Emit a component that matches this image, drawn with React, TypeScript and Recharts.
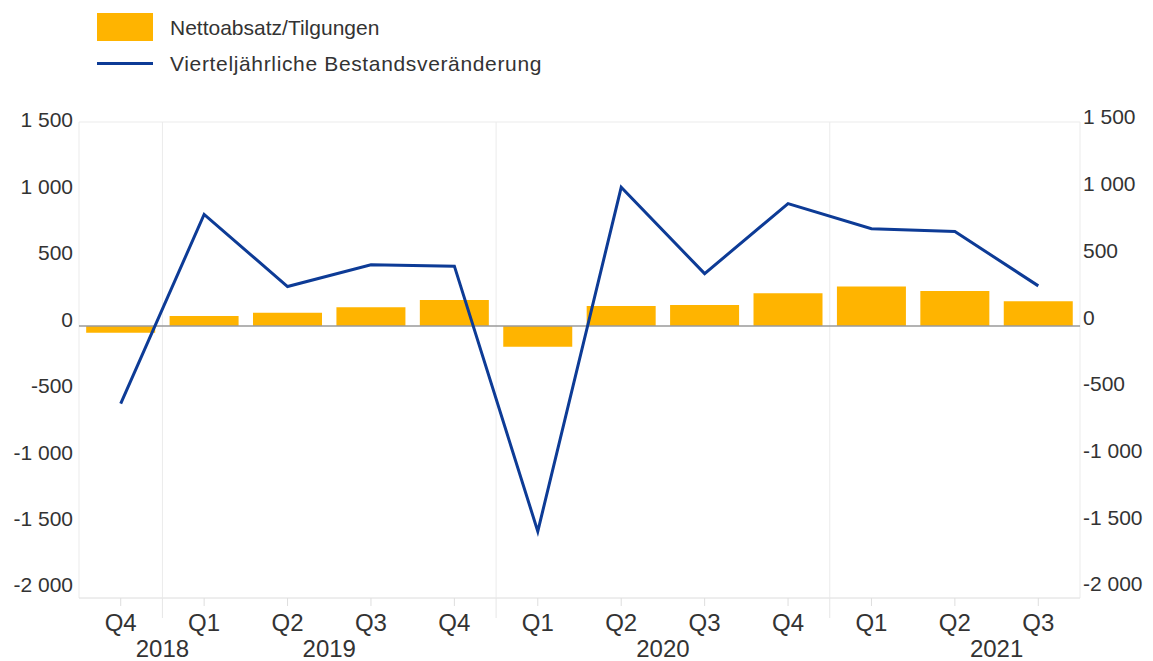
import React from "react";
import {
  ComposedChart,
  Bar,
  Line,
  XAxis,
  YAxis,
  CartesianGrid,
  ReferenceLine,
} from "recharts";

const quarters = ["Q4", "Q1", "Q2", "Q3", "Q4", "Q1", "Q2", "Q3", "Q4", "Q1", "Q2", "Q3"];
const years = ["2018", "", "2019", "", "", "", "2020", "", "", "", "2021", ""];
const netIssuance = [-49, 74, 98, 137, 191, -152, 147, 155, 240, 290, 257, 182];
const stockChange = [-570, 820, 290, 450, 440, -1510, 1020, 385, 900, 715, 695, 295];
const yTicks = [-2000, -1500, -1000, -500, 0, 500, 1000, 1500];

const data = quarters.map((q, i) => ({
  key: String(i),
  net: netIssuance[i],
  stock: stockChange[i],
}));

const W = 1153;
const H = 661;
const PLOT_LEFT = 79;
const PLOT_RIGHT = 1080;
const PLOT_TOP = 122;
const PLOT_BOTTOM = 598;
const BAND = (PLOT_RIGHT - PLOT_LEFT) / quarters.length;

// year separators sit on the left edge of every Q1 band
const separatorX = quarters
  .map((q, i) => (q === "Q1" ? PLOT_LEFT + BAND * i : null))
  .filter((v): v is number => v !== null);

const FONT = '"Liberation Sans", Arial, sans-serif';
const TEXT = "#333";
const GRID = "#ebebeb";
const ORANGE = "#ffb400";
const BLUE = "#0d3b96";

const fmt = (v: number) => {
  const s = String(Math.abs(v));
  const body = s.length > 3 ? s.slice(0, s.length - 3) + " " + s.slice(-3) : s;
  return (v < 0 ? "-" : "") + body;
};

function LeftTick({ x, y, payload }: any) {
  const v = payload.value as number;
  const shift = -2 - ((1500 - v) / 3500) * 11;
  return (
    <text x={x} y={y + shift} dy="0.355em" textAnchor="end" fontSize={21} fill={TEXT} fontFamily={FONT}>
      {fmt(v)}
    </text>
  );
}

function RightTick({ x, y, payload }: any) {
  const v = payload.value as number;
  const shift = -5 - ((1500 - v) / 3500) * 9;
  return (
    <text x={x} y={y + shift} dy="0.355em" textAnchor="start" fontSize={21} fill={TEXT} fontFamily={FONT}>
      {fmt(v)}
    </text>
  );
}

function QuarterTick({ x, y, payload }: any) {
  const i = Number(payload.value);
  const q = quarters[i];
  const yr = years[i];
  return (
    <g>
      <line x1={x} x2={x} y1={y} y2={y + 8} stroke="#dedede" />
      {q === "Q1" && (
        <line x1={x - BAND / 2} x2={x - BAND / 2} y1={y} y2={y + 20} stroke="#e6e6e6" />
      )}
      <text x={x} y={y + 24} dy="0.355em" textAnchor="middle" fontSize={24} fill={TEXT} fontFamily={FONT}>
        {q}
      </text>
      {yr && (
        <text x={x + BAND / 2} y={y + 50} dy="0.355em" textAnchor="middle" fontSize={24} fill={TEXT} fontFamily={FONT}>
          {yr}
        </text>
      )}
    </g>
  );
}

export default function App() {
  return (
    <div style={{ position: "absolute", left: 0, top: 0, width: W, height: H, background: "#fff", fontFamily: FONT }}>
      <div style={{ position: "absolute", left: 97, top: 13, width: 56, height: 28, background: ORANGE }} />
      <div style={{ position: "absolute", left: 170, top: 27, transform: "translateY(-50%)", fontSize: 21, color: TEXT, lineHeight: 1 }}>
        Nettoabsatz/Tilgungen
      </div>
      <div style={{ position: "absolute", left: 97, top: 62, width: 56, height: 3, background: BLUE }} />
      <div style={{ position: "absolute", left: 170, top: 63, transform: "translateY(-50%)", fontSize: 21, letterSpacing: 0.65, color: TEXT, lineHeight: 1 }}>
        Vierteljährliche Bestandsveränderung
      </div>

      <ComposedChart
        width={W}
        height={H}
        data={data}
        margin={{ top: PLOT_TOP, right: 0, bottom: 0, left: 0 }}
        barCategoryGap="8.6%"
      >
        <CartesianGrid
          stroke={GRID}
          verticalPoints={[PLOT_LEFT, ...separatorX, PLOT_RIGHT]}
          vertical={true}
        />
        <XAxis
          dataKey="key"
          height={H - PLOT_BOTTOM}
          tickSize={0}
          tickMargin={0}
          tickLine={false}
          axisLine={{ stroke: "#e6e6e6" }}
          interval={0}
          tick={<QuarterTick />}
        />
        <YAxis
          yAxisId="left"
          orientation="left"
          width={PLOT_LEFT}
          domain={[-2000, 1500]}
          ticks={yTicks}
          tickLine={false}
          axisLine={false}
          tickSize={4}
          tickMargin={2}
          tick={<LeftTick />}
        />
        <YAxis
          yAxisId="right"
          orientation="right"
          width={W - PLOT_RIGHT}
          domain={[-2000, 1500]}
          ticks={yTicks}
          tickLine={false}
          axisLine={false}
          tickSize={1}
          tickMargin={2}
          tick={<RightTick />}
        />
        <Bar yAxisId="left" dataKey="net" fill={ORANGE} isAnimationActive={false} />
        <ReferenceLine yAxisId="left" y={0} stroke="#9a9a9a" strokeWidth={1.5} />
        <Line
          yAxisId="right"
          type="linear"
          dataKey="stock"
          stroke={BLUE}
          strokeWidth={3}
          dot={false}
          activeDot={false}
          isAnimationActive={false}
        />
      </ComposedChart>
    </div>
  );
}
